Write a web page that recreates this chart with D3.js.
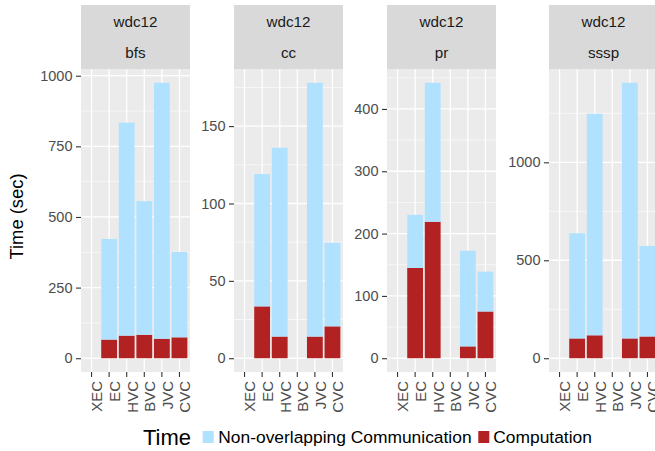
<!DOCTYPE html>
<html>
<head>
<meta charset="utf-8">
<script src="https://cdn.jsdelivr.net/npm/d3@7"></script>
<style>
  html, body { margin: 0; padding: 0; background: #fff; }
  svg { display: block; font-family: "Liberation Sans", Arial, Helvetica, sans-serif; }
</style>
</head>
<body>
<svg id="chart" width="655" height="451"></svg>
<script>
// ---------------- data ----------------
const categories = ["XEC", "EC", "HVC", "BVC", "JVC", "CVC"];
const facetNames = ["bfs", "cc", "pr", "sssp"];
const facetGroup = "wdc12";
const seriesNames = ["Non-overlapping Communication", "Computation"];

// seconds per category (XEC .. CVC); 0 = no bar
const bfsComputation    = [0, 66, 80, 83, 69, 74];
const bfsCommunication  = [0, 356, 754, 473, 906, 302];
const ccComputation     = [0, 33.5, 14, 0, 14, 20.6];
const ccCommunication   = [0, 85.5, 122, 0, 164, 54.1];
const prComputation     = [0, 145, 219, 0, 19, 75];
const prCommunication   = [0, 85, 223, 0, 153.5, 64];
const ssspComputation   = [0, 101, 117, 0, 101, 111];
const ssspCommunication = [0, 537, 1131, 0, 1305, 462];

const bfsTicks  = [0, 250, 500, 750, 1000];
const ccTicks   = [0, 50, 100, 150];
const prTicks   = [0, 100, 200, 300, 400];
const ssspTicks = [0, 500, 1000];

const computationByFacet   = [bfsComputation, ccComputation, prComputation, ssspComputation];
const communicationByFacet = [bfsCommunication, ccCommunication, prCommunication, ssspCommunication];
const ticksByFacet         = [bfsTicks, ccTicks, prTicks, ssspTicks];

// ---------------- layout ----------------
const panelLefts = [81, 234, 387, 549];
const panelW = 109;
const stripTop = 5, stripBottom = 69;
const panelTop = 69, panelBottom = 372;
const colors = { "Non-overlapping Communication": "#B0E2FF", "Computation": "#B22222" };

const svg = d3.select("#chart");
svg.append("rect").attr("width", 655).attr("height", 451).attr("fill", "#fff");

facetNames.forEach((name, fi) => {
  const x0 = panelLefts[fi];
  const rows = categories.map((c, i) => ({
    cat: c,
    "Computation": computationByFacet[fi][i],
    "Non-overlapping Communication": communicationByFacet[fi][i]
  }));
  const stack = d3.stack().keys(["Computation", "Non-overlapping Communication"]);
  const layers = stack(rows);
  const maxTotal = d3.max(rows, r => r["Computation"] + r["Non-overlapping Communication"]);

  const x = d3.scaleBand().domain(categories).range([x0, x0 + panelW])
    .paddingInner(0.1).paddingOuter(0.15);
  const y = d3.scaleLinear().domain([-0.05 * maxTotal, 1.05 * maxTotal])
    .range([panelBottom, panelTop]);

  const g = svg.append("g");
  g.append("rect").attr("x", x0).attr("y", panelTop).attr("width", panelW)
    .attr("height", panelBottom - panelTop).attr("fill", "#EBEBEB");

  const ticks = ticksByFacet[fi];
  const step = ticks[1] - ticks[0];
  const minor = [];
  for (let i = 0; i < ticks.length; i++) minor.push(ticks[i] + step / 2);
  minor.filter(v => v < y.domain()[1]).forEach(v => {
    g.append("line").attr("x1", x0).attr("x2", x0 + panelW)
      .attr("y1", y(v)).attr("y2", y(v)).attr("stroke", "#fff").attr("stroke-width", 0.6);
  });
  ticks.forEach(v => {
    g.append("line").attr("x1", x0).attr("x2", x0 + panelW)
      .attr("y1", y(v)).attr("y2", y(v)).attr("stroke", "#fff").attr("stroke-width", 1.3);
  });
  categories.forEach(c => {
    const cx = x(c) + x.bandwidth() / 2;
    g.append("line").attr("x1", cx).attr("x2", cx)
      .attr("y1", panelTop).attr("y2", panelBottom).attr("stroke", "#fff").attr("stroke-width", 1.3);
  });

  layers.forEach(layer => {
    g.selectAll(null).data(layer.filter(d => d[1] - d[0] > 0)).enter().append("rect")
      .attr("x", d => x(d.data.cat))
      .attr("width", x.bandwidth())
      .attr("y", d => y(d[1]))
      .attr("height", d => y(d[0]) - y(d[1]))
      .attr("fill", colors[layer.key]);
  });

  g.append("rect").attr("x", x0).attr("y", stripTop).attr("width", panelW)
    .attr("height", stripBottom - stripTop).attr("fill", "#D9D9D9");
  g.append("text").attr("x", x0 + panelW / 2).attr("y", 26.7).attr("text-anchor", "middle")
    .attr("font-size", 15.2).attr("fill", "#1A1A1A").text(facetGroup);
  g.append("text").attr("x", x0 + panelW / 2).attr("y", 58.3).attr("text-anchor", "middle")
    .attr("font-size", 15.2).attr("fill", "#1A1A1A").text(name);

  const yAxis = d3.axisLeft(y).tickValues(ticks).tickFormat(d3.format("d")).tickSize(5).tickPadding(3.5);
  const ya = g.append("g").attr("transform", `translate(${x0},0)`).call(yAxis);
  ya.select(".domain").remove();
  ya.selectAll(".tick line").attr("stroke", "#333333").attr("stroke-width", 1.1);
  ya.selectAll(".tick text").attr("fill", "#4D4D4D").attr("font-size", 14.5)
    .attr("font-family", "Liberation Sans, Arial, sans-serif");

  const xAxis = d3.axisBottom(x).tickSize(5).tickPadding(0);
  const xa = g.append("g").attr("transform", `translate(0,${panelBottom})`).call(xAxis);
  xa.select(".domain").remove();
  xa.selectAll(".tick line").attr("stroke", "#333333").attr("stroke-width", 1.1);
  xa.selectAll(".tick text")
    .attr("fill", "#4D4D4D").attr("font-size", 15)
    .attr("font-family", "Liberation Sans, Arial, sans-serif")
    .attr("text-anchor", "end")
    .attr("transform", "translate(0,9) rotate(-90)")
    .attr("x", 0).attr("y", 0).attr("dy", "0.72em");
});

svg.append("text").attr("transform", "translate(22.7,216.5) rotate(-90)")
  .attr("text-anchor", "middle").attr("font-size", 18.4).attr("fill", "#000").text("Time (sec)");

const lg = svg.append("g");
lg.append("text").attr("x", 143).attr("y", 445).attr("font-size", 22).attr("fill", "#000").text("Time");
const keyX = [202.7, 478.3];
const labelX = [218.3, 493.3];
seriesNames.forEach((s, i) => {
  lg.append("rect").attr("x", keyX[i]).attr("y", 431).attr("width", 11).attr("height", 12)
    .attr("fill", colors[s]);
  lg.append("text").attr("x", labelX[i]).attr("y", 443.3).attr("font-size", 17.4)
    .attr("fill", "#000").text(s);
});
</script>
</body>
</html>
